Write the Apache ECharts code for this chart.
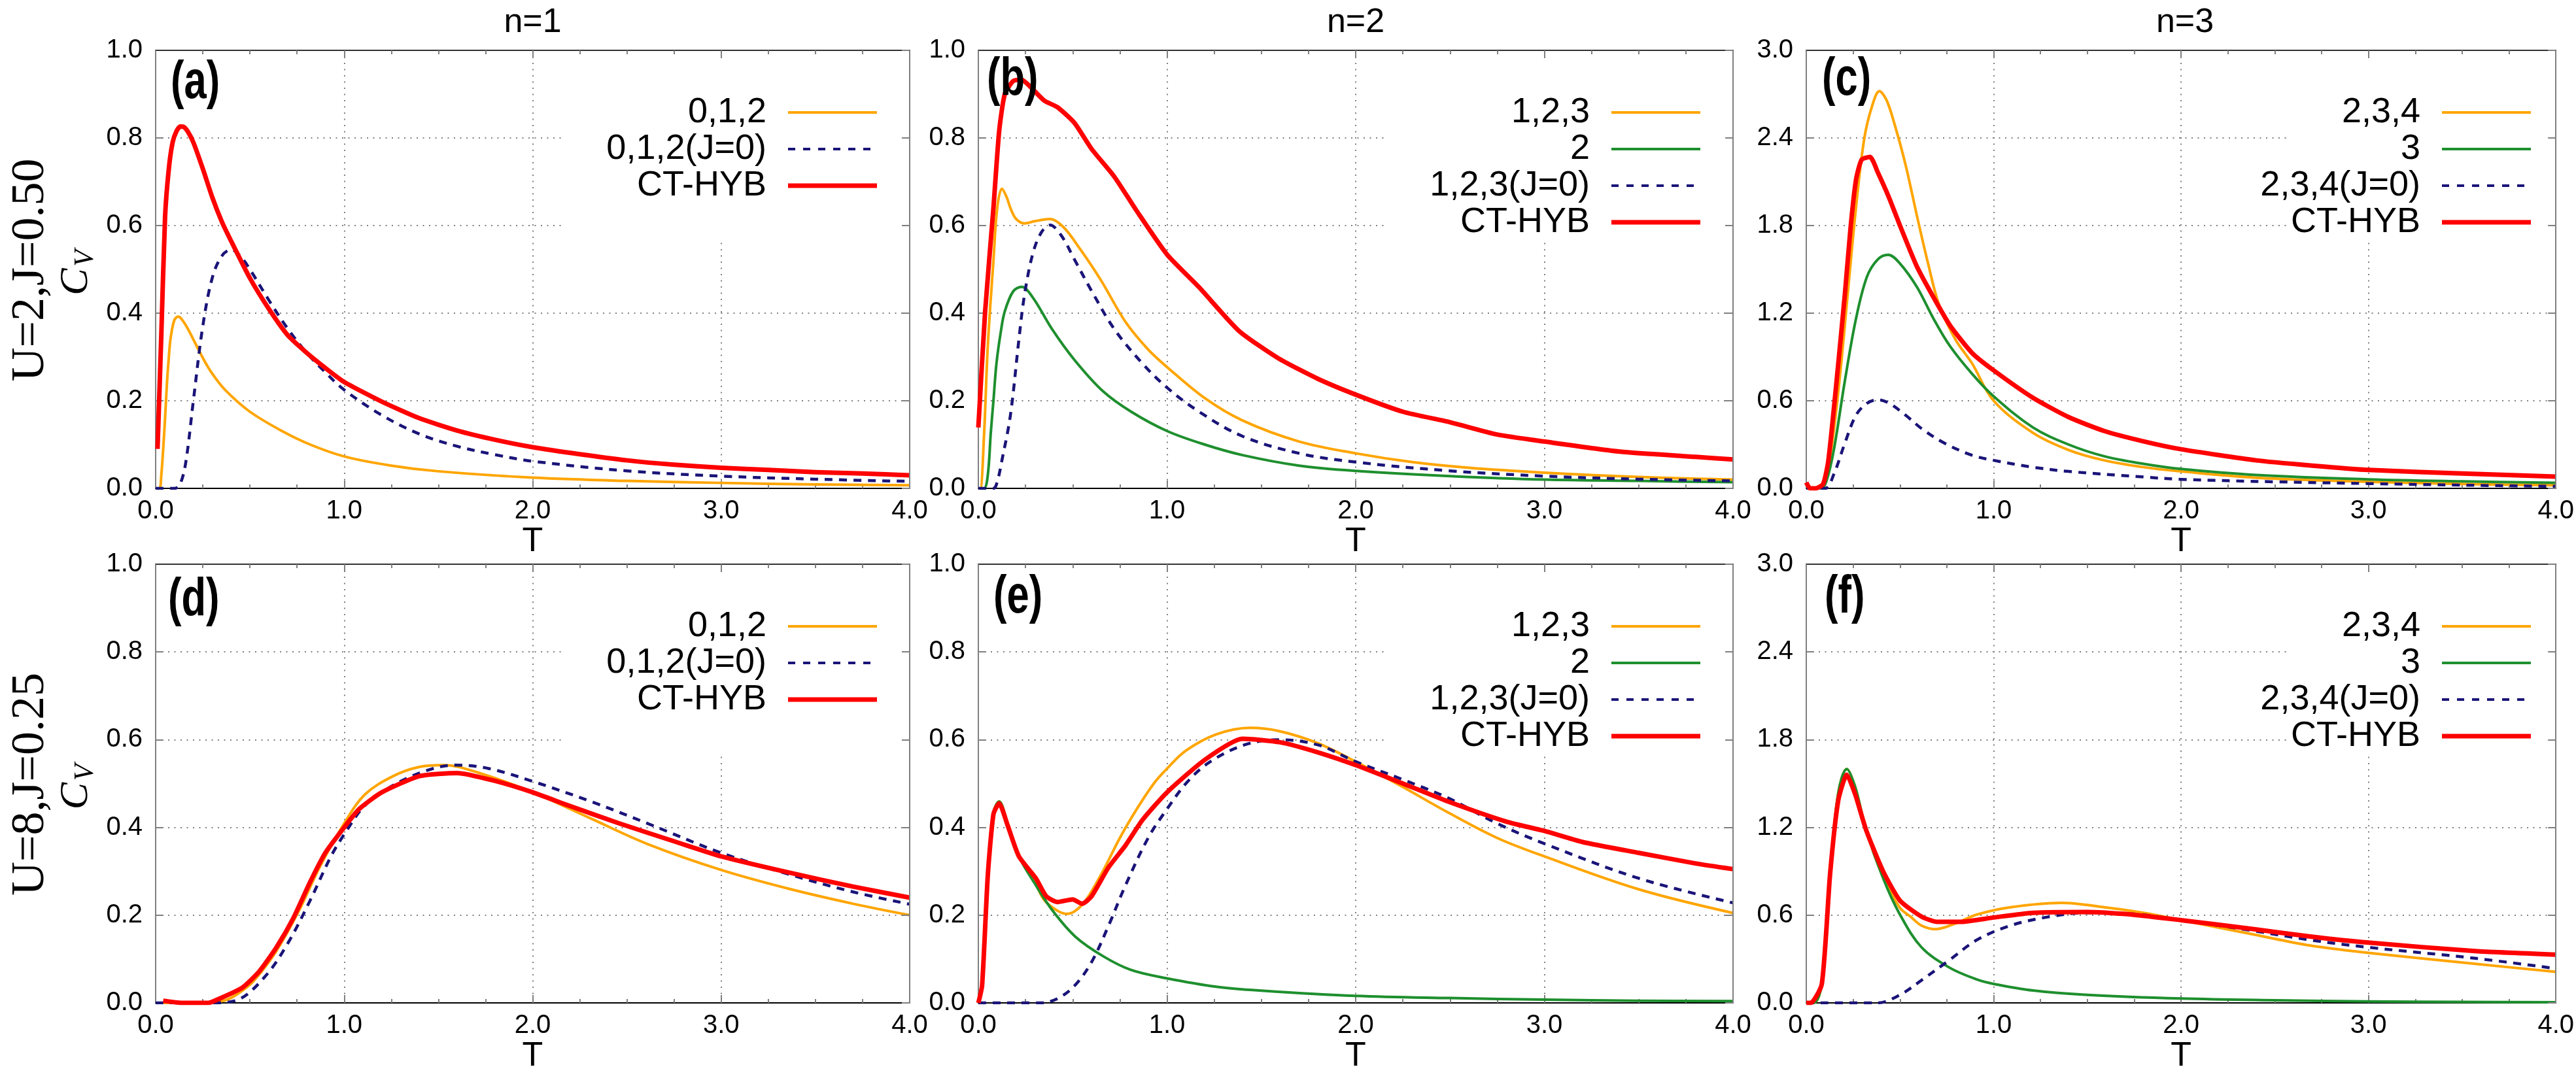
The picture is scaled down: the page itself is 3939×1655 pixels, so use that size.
<!DOCTYPE html>
<html>
<head>
<meta charset="utf-8">
<title>Cv(T) panels</title>
<script src="https://cdn.jsdelivr.net/npm/echarts@6.0.0/dist/echarts.min.js"></script>
<style>
  html, body { margin: 0; padding: 0; background: #fff; }
  #main { width: 3939px; height: 1655px; }
</style>
</head>
<body>
<div id="main"></div>
<script>
// headings
const colTitles = ['n=1', 'n=2', 'n=3'];
const rowTitles = ['U=2,J=0.50', 'U=8,J=0.25'];
const panelTags = ['(a)', '(b)', '(c)', '(d)', '(e)', '(f)'];
const tMin = 0, tMax = 4, tStep = 1;
const yMaxByCol = [1.0, 1.0, 3.0];
const yStepByCol = [0.2, 0.2, 0.6];

// ---- (a) U=2, J=0.5, n=1
const aOrangeT = [0, 0.02, 0.03, 0.04, 0.05, 0.06, 0.07, 0.08, 0.10, 0.12, 0.14, 0.17, 0.20, 0.25, 0.30, 0.37, 0.50, 0.67, 0.82, 1.0, 1.25, 1.5, 2.0, 2.5, 3.0, 3.5, 4.0];
const aOrange = [0, 0.0, 0.03, 0.09, 0.16, 0.24, 0.30, 0.345, 0.385, 0.392, 0.385, 0.365, 0.34, 0.298, 0.262, 0.224, 0.175, 0.131, 0.10, 0.073, 0.052, 0.039, 0.0245, 0.017, 0.0125, 0.009, 0.007];
const aBlueT = [0, 0.10, 0.13, 0.16, 0.20, 0.25, 0.30, 0.35, 0.40, 0.45, 0.50, 0.60, 0.70, 0.80, 0.90, 1.0, 1.2, 1.4, 1.6, 1.8, 2.0, 2.5, 3.0, 3.5, 4.0];
const aBlue = [0, 0, 0.01, 0.06, 0.20, 0.37, 0.48, 0.53, 0.545, 0.53, 0.50, 0.43, 0.365, 0.31, 0.265, 0.225, 0.167, 0.124, 0.096, 0.077, 0.062, 0.040, 0.028, 0.021, 0.016];
const aRedT = [0.01, 0.03, 0.05, 0.07, 0.09, 0.11, 0.13, 0.15, 0.17, 0.20, 0.25, 0.30, 0.35, 0.40, 0.50, 0.60, 0.70, 0.80, 0.90, 1.0, 1.2, 1.4, 1.6, 1.8, 2.0, 2.25, 2.5, 2.75, 3.0, 3.25, 3.5, 3.75, 4.0];
const aRed = [0.09, 0.35, 0.62, 0.73, 0.79, 0.815, 0.826, 0.825, 0.815, 0.79, 0.73, 0.665, 0.61, 0.565, 0.48, 0.41, 0.35, 0.31, 0.275, 0.243, 0.198, 0.16, 0.132, 0.111, 0.094, 0.078, 0.064, 0.054, 0.047, 0.042, 0.037, 0.034, 0.03];

// ---- (b) U=2, J=0.5, n=2
const bOrangeT = [0, 0.01, 0.03, 0.05, 0.08, 0.10, 0.125, 0.15, 0.17, 0.20, 0.245, 0.30, 0.38, 0.45, 0.54, 0.65, 0.78, 0.90, 1.0, 1.2, 1.4, 1.7, 2.0, 2.3, 2.6, 3.0, 3.5, 4.0];
const bOrange = [0, 0, 0.12, 0.325, 0.52, 0.64, 0.684, 0.665, 0.64, 0.615, 0.605, 0.61, 0.615, 0.597, 0.546, 0.475, 0.38, 0.317, 0.277, 0.206, 0.155, 0.107, 0.08, 0.06, 0.047, 0.036, 0.026, 0.02];
const bGreenT = [0, 0.03, 0.05, 0.066, 0.08, 0.096, 0.12, 0.14, 0.185, 0.23, 0.29, 0.39, 0.51, 0.66, 0.81, 1.0, 1.2, 1.4, 1.7, 2.0, 2.5, 3.0, 3.5, 4.0];
const bGreen = [0, 0, 0.03, 0.127, 0.2, 0.285, 0.36, 0.404, 0.45, 0.46, 0.435, 0.364, 0.293, 0.222, 0.175, 0.131, 0.10, 0.076, 0.052, 0.04, 0.028, 0.02, 0.017, 0.014];
const bBlueT = [0, 0.08, 0.10, 0.125, 0.17, 0.215, 0.245, 0.29, 0.335, 0.38, 0.44, 0.51, 0.60, 0.72, 0.87, 1.0, 1.17, 1.4, 1.7, 2.0, 2.5, 3.0, 3.5, 4.0];
const bBlue = [0, 0, 0.015, 0.064, 0.167, 0.34, 0.443, 0.538, 0.585, 0.601, 0.577, 0.522, 0.451, 0.364, 0.285, 0.23, 0.175, 0.119, 0.08, 0.06, 0.04, 0.028, 0.021, 0.017];
const bRedT = [0, 0.036, 0.08, 0.11, 0.14, 0.185, 0.23, 0.275, 0.35, 0.42, 0.51, 0.60, 0.72, 0.84, 1.0, 1.17, 1.38, 1.59, 1.8, 2.0, 2.25, 2.5, 2.75, 3.0, 3.4, 3.8, 4.0];
const bRed = [0.139, 0.404, 0.64, 0.814, 0.90, 0.93, 0.933, 0.917, 0.885, 0.87, 0.834, 0.775, 0.712, 0.633, 0.534, 0.459, 0.36, 0.297, 0.25, 0.214, 0.175, 0.151, 0.123, 0.107, 0.084, 0.072, 0.066];

// ---- (c) U=2, J=0.5, n=3
const cOrangeT = [0, 0.08, 0.10, 0.133, 0.177, 0.221, 0.265, 0.31, 0.354, 0.39, 0.428, 0.472, 0.531, 0.59, 0.65, 0.708, 0.796, 0.885, 1.0, 1.21, 1.4, 1.59, 1.8, 2.0, 2.4, 3.0, 3.5, 4.0];
const cOrange = [0, 0, 0.06, 0.263, 0.737, 1.33, 1.92, 2.4, 2.63, 2.72, 2.66, 2.49, 2.21, 1.87, 1.54, 1.26, 1.02, 0.855, 0.60, 0.38, 0.263, 0.192, 0.145, 0.116, 0.073, 0.045, 0.03, 0.021];
const cGreenT = [0, 0.08, 0.11, 0.147, 0.206, 0.265, 0.324, 0.383, 0.437, 0.50, 0.59, 0.68, 0.767, 0.885, 1.0, 1.21, 1.4, 1.59, 1.8, 2.0, 2.4, 3.0, 3.5, 4.0];
const cGreen = [0, 0, 0.06, 0.263, 0.737, 1.16, 1.45, 1.57, 1.60, 1.54, 1.38, 1.16, 0.974, 0.784, 0.63, 0.417, 0.30, 0.22, 0.168, 0.133, 0.092, 0.062, 0.048, 0.038];
const cBlueT = [0, 0.10, 0.147, 0.206, 0.265, 0.324, 0.383, 0.442, 0.531, 0.62, 0.737, 0.885, 1.0, 1.21, 1.4, 1.8, 2.0, 2.5, 3.0, 3.5, 4.0];
const cBlue = [0, 0, 0.097, 0.31, 0.50, 0.583, 0.607, 0.583, 0.50, 0.405, 0.31, 0.227, 0.192, 0.145, 0.116, 0.078, 0.062, 0.045, 0.033, 0.022, 0.014];
const cRedT = [0, 0.02, 0.05, 0.09, 0.118, 0.162, 0.206, 0.236, 0.265, 0.295, 0.34, 0.383, 0.442, 0.50, 0.59, 0.68, 0.767, 0.885, 1.0, 1.21, 1.4, 1.59, 1.8, 2.0, 2.4, 2.7, 3.0, 3.5, 4.0];
const cRed = [0.04, 0.0, 0.0, 0.03, 0.192, 0.737, 1.33, 1.78, 2.11, 2.25, 2.27, 2.16, 1.99, 1.80, 1.52, 1.306, 1.116, 0.927, 0.808, 0.62, 0.488, 0.393, 0.322, 0.268, 0.192, 0.156, 0.126, 0.102, 0.081];

// ---- (d) U=8, J=0.25, n=1
const dOrangeT = [0, 0.25, 0.37, 0.45, 0.52, 0.64, 0.76, 0.87, 1.0, 1.11, 1.26, 1.4, 1.53, 1.71, 2.0, 2.31, 2.61, 3.0, 3.36, 3.7, 4.0];
const dOrange = [0, 0, 0.006, 0.025, 0.05, 0.118, 0.21, 0.309, 0.409, 0.475, 0.517, 0.538, 0.542, 0.525, 0.48, 0.42, 0.362, 0.303, 0.26, 0.226, 0.2];
const dBlueT = [0, 0.30, 0.43, 0.58, 0.70, 0.82, 0.93, 1.0, 1.11, 1.26, 1.44, 1.59, 1.77, 2.0, 2.31, 2.61, 3.0, 3.36, 3.7, 4.0];
const dBlue = [0, 0, 0.006, 0.06, 0.135, 0.234, 0.334, 0.384, 0.45, 0.496, 0.53, 0.542, 0.534, 0.505, 0.459, 0.409, 0.342, 0.293, 0.253, 0.225];
const dRedT = [0.04, 0.14, 0.28, 0.34, 0.46, 0.55, 0.64, 0.73, 0.82, 0.90, 1.0, 1.08, 1.2, 1.4, 1.6, 1.8, 2.0, 2.19, 2.46, 2.76, 3.0, 3.36, 3.7, 4.0];
const dRed = [0.005, 0.0, 0.0, 0.01, 0.035, 0.072, 0.126, 0.193, 0.276, 0.342, 0.40, 0.442, 0.48, 0.517, 0.524, 0.506, 0.48, 0.45, 0.409, 0.367, 0.334, 0.297, 0.265, 0.24];

// ---- (e) U=8, J=0.25, n=2
const eOrangeT = [0, 0.02, 0.05, 0.08, 0.11, 0.155, 0.215, 0.305, 0.35, 0.42, 0.47, 0.514, 0.57, 0.66, 0.75, 0.84, 0.93, 1.0, 1.1, 1.26, 1.44, 1.59, 1.8, 2.0, 2.25, 2.49, 2.75, 3.0, 3.5, 4.0];
const eOrange = [0, 0.043, 0.293, 0.434, 0.459, 0.41, 0.336, 0.27, 0.234, 0.21, 0.203, 0.21, 0.234, 0.30, 0.376, 0.442, 0.50, 0.534, 0.575, 0.612, 0.627, 0.62, 0.592, 0.55, 0.492, 0.434, 0.376, 0.334, 0.259, 0.205];
const eGreenT = [0, 0.02, 0.05, 0.08, 0.11, 0.155, 0.215, 0.305, 0.394, 0.514, 0.663, 0.81, 1.0, 1.26, 1.5, 2.0, 2.5, 3.0, 3.5, 4.0];
const eGreen = [0, 0.043, 0.293, 0.434, 0.459, 0.409, 0.334, 0.268, 0.21, 0.151, 0.106, 0.075, 0.056, 0.037, 0.028, 0.016, 0.011, 0.0075, 0.005, 0.004];
const eBlueT = [0, 0.33, 0.42, 0.51, 0.60, 0.69, 0.78, 0.90, 1.0, 1.11, 1.23, 1.41, 1.59, 1.8, 2.0, 2.25, 2.49, 2.75, 3.0, 3.5, 4.0];
const eBlue = [0, 0, 0.01, 0.039, 0.093, 0.176, 0.268, 0.376, 0.442, 0.505, 0.55, 0.588, 0.60, 0.588, 0.55, 0.509, 0.467, 0.409, 0.363, 0.284, 0.228];
const eRedT = [0, 0.02, 0.05, 0.08, 0.11, 0.155, 0.215, 0.305, 0.36, 0.42, 0.50, 0.55, 0.60, 0.69, 0.78, 0.87, 1.0, 1.2, 1.4, 1.6, 1.8, 2.0, 2.25, 2.49, 2.8, 3.0, 3.2, 3.5, 3.8, 4.0];
const eRed = [0, 0.04, 0.29, 0.43, 0.455, 0.405, 0.334, 0.284, 0.243, 0.23, 0.236, 0.226, 0.243, 0.309, 0.359, 0.417, 0.48, 0.554, 0.602, 0.594, 0.571, 0.542, 0.50, 0.459, 0.413, 0.392, 0.367, 0.342, 0.318, 0.305];

// ---- (f) U=8, J=0.25, n=3
const fOrangeT = [0, 0.04, 0.083, 0.127, 0.17, 0.216, 0.26, 0.32, 0.41, 0.50, 0.556, 0.615, 0.69, 0.79, 0.91, 1.09, 1.36, 1.59, 1.8, 2.0, 2.39, 2.69, 3.0, 3.57, 4.0];
const fOrange = [0, 0, 0.13, 0.878, 1.43, 1.60, 1.48, 1.18, 0.86, 0.65, 0.59, 0.529, 0.504, 0.54, 0.604, 0.654, 0.684, 0.654, 0.616, 0.566, 0.467, 0.392, 0.342, 0.267, 0.212];
const fGreenT = [0, 0.04, 0.083, 0.127, 0.17, 0.216, 0.26, 0.32, 0.41, 0.50, 0.615, 0.763, 0.91, 1.0, 1.21, 1.5, 2.0, 2.5, 3.0, 3.5, 4.0];
const fGreen = [0, 0, 0.13, 0.878, 1.43, 1.60, 1.48, 1.18, 0.853, 0.604, 0.38, 0.242, 0.16, 0.13, 0.085, 0.055, 0.03, 0.018, 0.01, 0.007, 0.005];
const fBlueT = [0, 0.38, 0.50, 0.615, 0.763, 0.91, 1.09, 1.3, 1.5, 1.74, 2.0, 2.39, 2.69, 3.0, 3.57, 4.0];
const fBlue = [0, 0, 0.055, 0.155, 0.292, 0.43, 0.529, 0.59, 0.616, 0.609, 0.566, 0.492, 0.43, 0.38, 0.305, 0.235];
const fRedT = [0, 0.024, 0.083, 0.127, 0.17, 0.216, 0.26, 0.32, 0.41, 0.50, 0.615, 0.70, 0.82, 1.0, 1.21, 1.5, 1.74, 2.0, 2.39, 2.69, 3.0, 3.57, 4.0];
const fRed = [0, 0, 0.13, 0.88, 1.38, 1.56, 1.43, 1.18, 0.90, 0.70, 0.59, 0.554, 0.554, 0.584, 0.616, 0.621, 0.604, 0.566, 0.504, 0.454, 0.412, 0.354, 0.33];

// layout (pixels)
const W = 3939;
const SANS = '"Liberation Sans", Arial, Helvetica, sans-serif';
const SERIF = '"Liberation Serif", "Times New Roman", serif';
const cols = [{ left: 238, width: 1153 }, { left: 1496, width: 1154 }, { left: 2762, width: 1158 }];
const rows = [{ top: 77, height: 670 }, { top: 863, height: 671 }];

const LOOK = {
  orange: { color: '#ffa500', width: 4, type: 'solid', icon: 'path://M0,0H136V4H0Z', iw: 136, ih: 4 },
  green: { color: '#1e8f2e', width: 4, type: 'solid', icon: 'path://M0,0H136V4H0Z', iw: 136, ih: 4 },
  blue: { color: '#1a1478', width: 4.5, type: [12, 10], iw: 126, ih: 4,
    icon: 'path://M0,0h11v4h-11zM23,0h11v4h-11zM46,0h11v4h-11zM69,0h11v4h-11zM92,0h11v4h-11zM115,0h11v4h-11z' },
  red: { color: '#ff0000', width: 7, type: 'solid', icon: 'path://M0,0H136V7H0Z', iw: 136, ih: 7 }
};

const panels = [
  { row: 0, col: 0, tag: [23, 57], box: 625, lines: [
    ['0,1,2', 'orange', aOrangeT, aOrange], ['0,1,2(J=0)', 'blue', aBlueT, aBlue], ['CT-HYB', 'red', aRedT, aRed]] },
  { row: 0, col: 1, tag: [13, 52], box: 626, lines: [
    ['1,2,3', 'orange', bOrangeT, bOrange], ['2', 'green', bGreenT, bGreen], ['1,2,3(J=0)', 'blue', bBlueT, bBlue], ['CT-HYB', 'red', bRedT, bRed]] },
  { row: 0, col: 2, tag: [24, 52], box: 735, lines: [
    ['2,3,4', 'orange', cOrangeT, cOrange], ['3', 'green', cGreenT, cGreen], ['2,3,4(J=0)', 'blue', cBlueT, cBlue], ['CT-HYB', 'red', cRedT, cRed]] },
  { row: 1, col: 0, tag: [19, 62], box: 625, lines: [
    ['0,1,2', 'orange', dOrangeT, dOrange], ['0,1,2(J=0)', 'blue', dBlueT, dBlue], ['CT-HYB', 'red', dRedT, dRed]] },
  { row: 1, col: 1, tag: [23, 58], box: 626, lines: [
    ['1,2,3', 'orange', eOrangeT, eOrange], ['2', 'green', eGreenT, eGreen], ['1,2,3(J=0)', 'blue', eBlueT, eBlue], ['CT-HYB', 'red', eRedT, eRed]] },
  { row: 1, col: 2, tag: [28, 58], box: 735, lines: [
    ['2,3,4', 'orange', fOrangeT, fOrange], ['3', 'green', fGreenT, fGreen], ['2,3,4(J=0)', 'blue', fBlueT, fBlue], ['CT-HYB', 'red', fRedT, fRed]] }
];

const grid = [], xAxis = [], yAxis = [], series = [], legend = [], graphic = [];
const fmt = v => v.toFixed(1);
const dotted = { color: '#808080', width: 2, type: [2, 7.5] };
const tickStyle = { color: '#808080', width: 2 };

panels.forEach((p, i) => {
  const c = cols[p.col], r = rows[p.row];
  const ymax = yMaxByCol[p.col], ystep = yStepByCol[p.col];
  grid.push({ left: c.left, top: r.top, width: c.width, height: r.height, containLabel: false });

  // bottom axis with labels and grid
  xAxis.push({
    type: 'value', gridIndex: i, min: tMin, max: tMax, interval: tStep, z: 0,
    axisLine: { show: true, onZero: false, lineStyle: { color: '#000', width: 2 } },
    axisTick: { show: true, inside: true, length: 12, lineStyle: tickStyle },
    minorTick: { show: true, splitNumber: 4, length: 6, lineStyle: tickStyle },
    axisLabel: { margin: 15, fontSize: 40, fontFamily: SANS, color: '#000', formatter: fmt },
    splitLine: { show: true, showMinLine: false, showMaxLine: false, lineStyle: dotted },
    name: 'T', nameLocation: 'middle', nameGap: 56,
    nameTextStyle: { fontSize: 52, fontFamily: SANS, color: '#000' }
  });
  // top mirror
  xAxis.push({
    type: 'value', gridIndex: i, position: 'top', min: tMin, max: tMax, interval: tStep, z: 3,
    axisLine: { show: true, onZero: false, lineStyle: { color: '#333', width: 2 } },
    axisTick: { show: true, inside: true, length: 12, lineStyle: tickStyle },
    minorTick: { show: true, splitNumber: 4, length: 6, lineStyle: tickStyle },
    axisLabel: { show: false }, splitLine: { show: false }
  });
  yAxis.push({
    type: 'value', gridIndex: i, min: 0, max: ymax, interval: ystep, z: 0,
    axisLine: { show: true, onZero: false, lineStyle: { color: '#808080', width: 2 } },
    axisTick: { show: true, inside: true, length: 12, lineStyle: tickStyle },
    axisLabel: { margin: 20, fontSize: 40, fontFamily: SANS, color: '#000', formatter: fmt },
    splitLine: { show: true, showMinLine: false, showMaxLine: false, lineStyle: dotted }
  });
  yAxis.push({
    type: 'value', gridIndex: i, position: 'right', min: 0, max: ymax, interval: ystep, z: 3,
    axisLine: { show: true, onZero: false, lineStyle: { color: '#808080', width: 2 } },
    axisTick: { show: true, inside: true, length: 12, lineStyle: tickStyle },
    axisLabel: { show: false }, splitLine: { show: false }
  });

  // opaque key area (gnuplot blanks the grid behind the key)
  graphic.push({
    type: 'rect', silent: true, z: 1,
    shape: { x: c.left + p.box, y: r.top + 2, width: c.width - p.box - 2, height: 291 },
    style: { fill: '#fff' }
  });
  // panel tag
  graphic.push({
    type: 'text', x: c.left + p.tag[0], y: r.top + p.tag[1] - 7, scaleX: 0.75, z: 10, silent: true,
    style: { text: panelTags[i], font: 'bold 82px ' + SANS, fill: '#000', align: 'left', verticalAlign: 'middle' }
  });

  p.lines.forEach((ln, k) => {
    const [name, kind, ts, vs] = ln;
    const look = LOOK[kind];
    series.push({
      type: 'line', name, xAxisIndex: 2 * i, yAxisIndex: 2 * i,
      data: ts.map((t, j) => [t, vs[j]]),
      symbol: 'none', showSymbol: false, smooth: kind === 'red' ? 0.2 : 0.35,
      color: look.color, z: 2, silent: true, animation: false,
      lineStyle: { color: look.color, width: look.width, type: look.type, cap: 'butt', join: 'round' },
      itemStyle: { color: look.color },
      emphasis: { disabled: true }
    });
    const lineEnd = c.left + c.width - 50 - (kind === 'blue' ? 10 : 0);
    legend.push({
      data: [name], selectedMode: false, orient: 'horizontal', align: 'right', padding: 0,
      right: W - lineEnd, top: r.top + 67 + 56 * k,
      icon: look.icon, itemWidth: look.iw, itemHeight: look.ih,
      itemStyle: { color: look.color, borderWidth: 0 },
      textStyle: { fontSize: 54, fontFamily: SANS, color: '#000', lineHeight: 56, padding: [0, 28, 0, 0] }
    });
  });
});

// column titles
cols.forEach((c, j) => {
  graphic.push({
    type: 'text', x: c.left + c.width / 2, y: 35, z: 10, silent: true,
    style: { text: colTitles[j], font: '52px ' + SANS, fill: '#000', align: 'center', verticalAlign: 'middle' }
  });
});
// row titles with C_V
rows.forEach((r, j) => {
  const mid = r.top + r.height / 2;
  graphic.push({
    type: 'text', x: 47, y: mid + 1, rotation: Math.PI / 2, z: 10, silent: true,
    style: { text: rowTitles[j], font: '72px ' + SERIF, fill: '#000', align: 'center', verticalAlign: 'middle' }
  });
  graphic.push({
    type: 'text', x: 117, y: mid + 19, rotation: Math.PI / 2, z: 10, silent: true,
    style: { text: 'C', font: 'italic 62px ' + SERIF, fill: '#000', align: 'center', verticalAlign: 'middle' }
  });
  graphic.push({
    type: 'text', x: 131, y: mid - 17, rotation: Math.PI / 2, z: 10, silent: true,
    style: { text: 'V', font: 'italic 42px ' + SERIF, fill: '#000', align: 'center', verticalAlign: 'middle' }
  });
});

const chart = echarts.init(document.getElementById('main'), null, { renderer: 'canvas' });
chart.setOption({
  animation: false,
  backgroundColor: '#fff',
  textStyle: { fontFamily: SANS },
  grid, xAxis, yAxis, series, legend, graphic
});
</script>
</body>
</html>
